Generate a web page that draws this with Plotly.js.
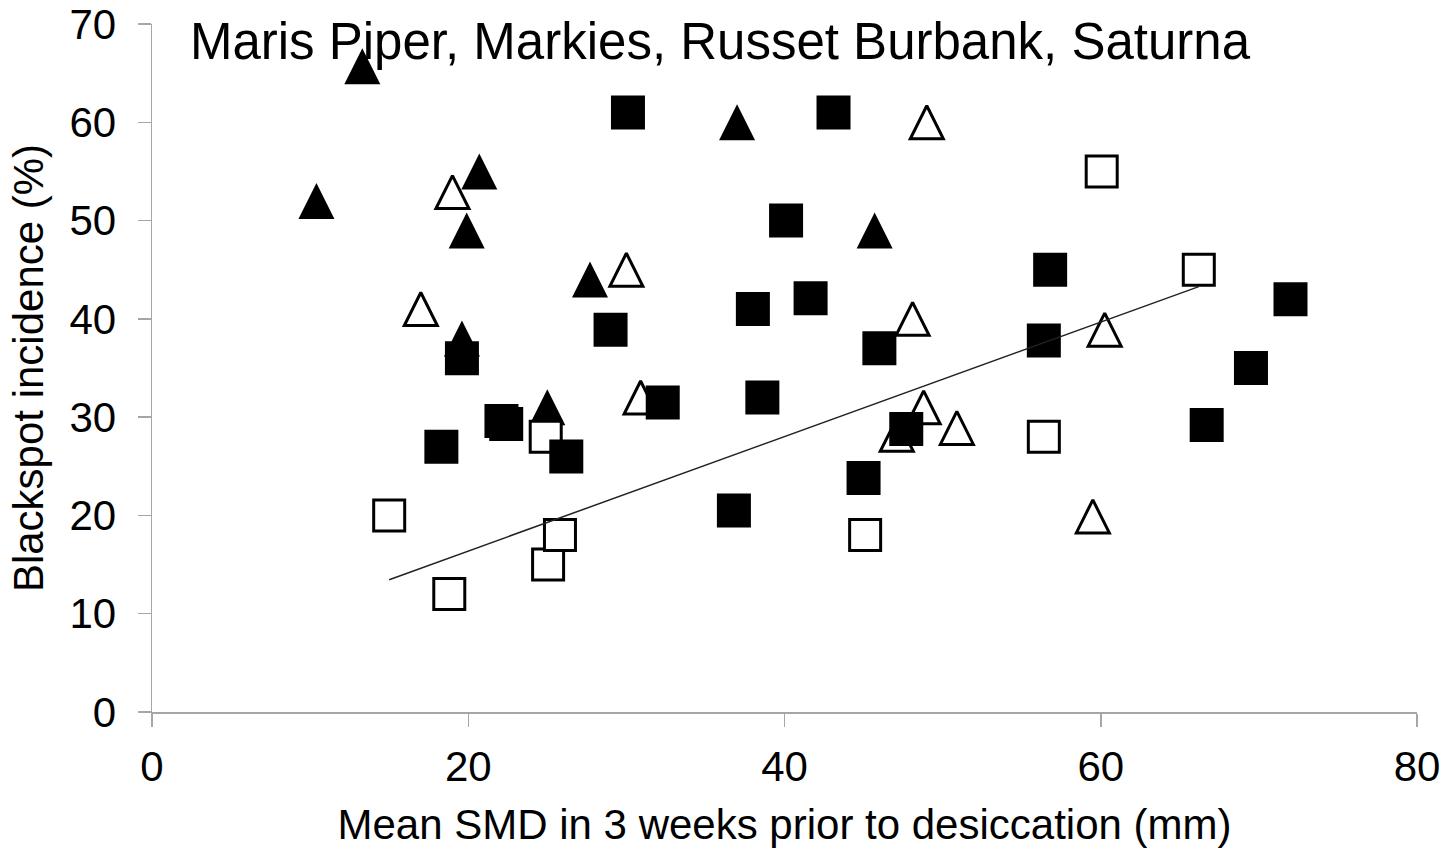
<!DOCTYPE html>
<html>
<head>
<meta charset="utf-8">
<script src="https://cdn.plot.ly/plotly-3.0.1.min.js"></script>
<style>
  html, body { margin: 0; padding: 0; background: #fff; }
  #chart { width: 1454px; height: 848px; }
</style>
</head>
<body>
<div id="chart"></div>
<script>
// ---- Data ----
const chartTitle = "Maris Piper, Markies, Russet Burbank, Saturna";
const xTitle = "Mean SMD in 3 weeks prior to desiccation (mm)";
const yTitle = "Blackspot incidence (%)";

// filled triangles
const filledTriX = [13.3, 10.4, 20.7, 19.9, 19.6, 27.7, 25.0, 37.0, 45.7];
const filledTriY = [65.7, 52.0, 55.0, 49.0, 38.0, 44.0, 31.0, 60.0, 49.0];

// open triangles
const openTriX = [19.0, 17.0, 30.0, 30.9, 49.0, 48.1, 48.8, 47.1, 50.9, 60.25, 59.5];
const openTriY = [52.9, 41.0, 45.0, 32.0, 60.0, 40.0, 31.0, 28.2, 28.9, 38.9, 19.9];

// open squares (series with the linear trendline)
const openSqX = [15.0, 18.8, 24.9, 25.05, 25.8, 45.1, 56.4, 60.06, 66.2];
const openSqY = [20.0, 12.0, 28.0, 15.0, 18.0, 18.0, 28.0, 55.0, 45.0];

// filled squares
const filledSqX = [19.6, 18.3, 22.1, 22.4, 26.2, 29.0, 32.3, 30.1, 43.1, 40.1, 41.65, 38.0, 38.6, 46.0, 47.7, 45.0, 36.8, 56.8, 56.4, 72.0, 69.5, 66.7];
const filledSqY = [36.0, 27.0, 29.6, 29.3, 26.0, 38.9, 31.5, 61.0, 61.0, 50.0, 42.1, 41.0, 32.0, 37.0, 28.8, 23.8, 20.5, 45.0, 37.8, 42.0, 35.0, 29.2];

const xTicks = [0, 20, 40, 60, 80];
const yTicks = [0, 10, 20, 30, 40, 50, 60, 70];

// ---- Linear trendline (least squares) for the open-square series ----
function linFit(xs, ys) {
  const n = xs.length;
  const mx = xs.reduce((a, b) => a + b, 0) / n;
  const my = ys.reduce((a, b) => a + b, 0) / n;
  let sxy = 0, sxx = 0;
  for (let i = 0; i < n; i++) { sxy += (xs[i] - mx) * (ys[i] - my); sxx += (xs[i] - mx) ** 2; }
  const b = sxy / sxx, a = my - b * mx;
  const x0 = Math.min(...xs), x1 = Math.max(...xs);
  return { x: [x0, x1], y: [a + b * x0, a + b * x1] };
}
const fit = linFit(openSqX, openSqY);

const TRI = 36;
const traces = [
  {
    x: filledTriX, y: filledTriY, type: 'scatter', mode: 'markers', name: 'filled triangles',
    marker: { symbol: 'arrow-down', angle: 180, standoff: TRI / 2, size: TRI, color: '#000', line: { width: 0 } }
  },
  {
    x: openTriX, y: openTriY, type: 'scatter', mode: 'markers', name: 'open triangles',
    marker: { symbol: 'arrow-down', angle: 180, standoff: 33 / 2, size: 33, color: '#fff', line: { width: 3, color: '#000' } }
  },
  {
    x: openSqX, y: openSqY, type: 'scatter', mode: 'markers', name: 'open squares',
    marker: { symbol: 'square', size: 31, color: '#fff', line: { width: 3, color: '#000' } }
  },
  {
    x: filledSqX, y: filledSqY, type: 'scatter', mode: 'markers', name: 'filled squares',
    marker: { symbol: 'square', size: 34, color: '#000', line: { width: 0 } }
  },
  {
    x: fit.x, y: fit.y, type: 'scatter', mode: 'lines', name: 'trend',
    line: { color: '#222', width: 1.5 }
  }
];

const FONT = 'Liberation Sans, Arial, sans-serif';
const axisCommon = {
  showline: true, linecolor: '#a6a6a6', linewidth: 1.5,
  showgrid: false, zeroline: false,
  ticks: 'outside', ticklen: 13, tickwidth: 1.5, tickcolor: '#a6a6a6',
  tickfont: { family: FONT, size: 42, color: '#000' },
  automargin: false, fixedrange: true
};

const layout = {
  width: 1454, height: 848,
  paper_bgcolor: '#fff', plot_bgcolor: '#fff',
  showlegend: false,
  margin: { l: 152, r: 37, t: 24, b: 136 },
  font: { family: FONT, color: '#000' },
  title: {
    text: chartTitle,
    font: { family: FONT, size: 51, color: '#000' },
    xref: 'paper', x: 0.03, xanchor: 'left',
    yref: 'container', y: 1 - 41 / 848, yanchor: 'middle'
  },
  xaxis: Object.assign({}, axisCommon, {
    range: [0, 80], tickvals: xTicks, ticktext: xTicks.map(String),
    ticklabelstandoff: 4,
    title: { text: xTitle, font: { family: FONT, size: 42, color: '#000' }, standoff: 24 }
  }),
  yaxis: Object.assign({}, axisCommon, {
    range: [0, 70], tickvals: yTicks, ticktext: yTicks.map(String),
    ticklabelstandoff: 13,
    title: { text: yTitle, font: { family: FONT, size: 42, color: '#000' }, standoff: 12 }
  })
};

Plotly.newPlot('chart', traces, layout, { displayModeBar: false, staticPlot: true });
</script>
</body>
</html>
